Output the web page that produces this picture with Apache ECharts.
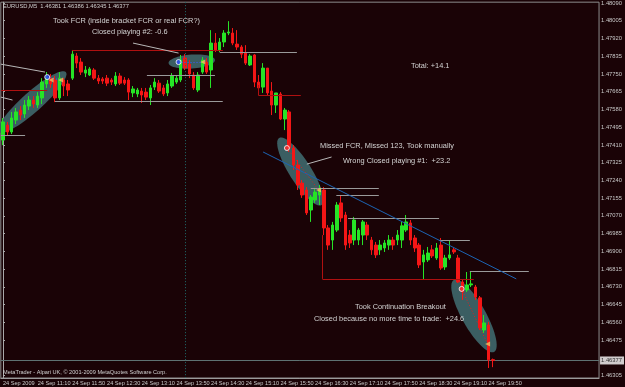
<!DOCTYPE html>
<html>
<head>
<meta charset="utf-8">
<script src="https://cdn.jsdelivr.net/npm/echarts@6.0.0/dist/echarts.min.js"></script>
<style>
html, body { margin: 0; padding: 0; background: #1a0306; }
#chart { width: 625px; height: 387px; }
</style>
</head>
<body>
<div id="chart"></div>
<script>
// EURUSD M5, 24 Sep 2009, one bar every 5 minutes from 10:30 to 19:55
// [open, close, low, high]
const bars = [
  [1.47433, 1.47520, 1.47409, 1.47539], [1.47505, 1.47472, 1.47453, 1.47520],
  [1.47472, 1.47539, 1.47462, 1.47568], [1.47529, 1.47568, 1.47510, 1.47587],
  [1.47577, 1.47553, 1.47529, 1.47596], [1.47558, 1.47601, 1.47539, 1.47625],
  [1.47596, 1.47625, 1.47577, 1.47644], [1.47625, 1.47606, 1.47587, 1.47644],
  [1.47601, 1.47644, 1.47587, 1.47663], [1.47635, 1.47711, 1.47606, 1.47730],
  [1.47702, 1.47735, 1.47683, 1.47759], [1.47730, 1.47702, 1.47683, 1.47750],
  [1.47721, 1.47635, 1.47615, 1.47740], [1.47635, 1.47730, 1.47625, 1.47759],
  [1.47721, 1.47692, 1.47644, 1.47730], [1.47702, 1.47673, 1.47644, 1.47721],
  [1.47730, 1.47845, 1.47721, 1.47865], [1.47836, 1.47802, 1.47778, 1.47850],
  [1.47807, 1.47759, 1.47745, 1.47826], [1.47754, 1.47769, 1.47735, 1.47788],
  [1.47745, 1.47774, 1.47740, 1.47783], [1.47769, 1.47730, 1.47721, 1.47778],
  [1.47730, 1.47716, 1.47702, 1.47745], [1.47726, 1.47716, 1.47702, 1.47735],
  [1.47730, 1.47706, 1.47692, 1.47745], [1.47721, 1.47711, 1.47697, 1.47730],
  [1.47702, 1.47740, 1.47692, 1.47759], [1.47740, 1.47706, 1.47697, 1.47754],
  [1.47721, 1.47706, 1.47697, 1.47735], [1.47721, 1.47663, 1.47625, 1.47730],
  [1.47659, 1.47678, 1.47639, 1.47692], [1.47654, 1.47673, 1.47639, 1.47683],
  [1.47668, 1.47649, 1.47611, 1.47683], [1.47663, 1.47639, 1.47625, 1.47683],
  [1.47635, 1.47683, 1.47601, 1.47697], [1.47687, 1.47711, 1.47673, 1.47730],
  [1.47706, 1.47668, 1.47659, 1.47721], [1.47683, 1.47654, 1.47644, 1.47697],
  [1.47659, 1.47702, 1.47644, 1.47721], [1.47692, 1.47740, 1.47683, 1.47754],
  [1.47711, 1.47730, 1.47702, 1.47745], [1.47721, 1.47817, 1.47711, 1.47841],
  [1.47826, 1.47778, 1.47769, 1.47845], [1.47797, 1.47750, 1.47730, 1.47817],
  [1.47745, 1.47683, 1.47673, 1.47759], [1.47673, 1.47745, 1.47663, 1.47759],
  [1.47759, 1.47817, 1.47750, 1.47831], [1.47807, 1.47759, 1.47750, 1.47826],
  [1.47769, 1.47898, 1.47683, 1.47960], [1.47898, 1.47865, 1.47855, 1.47946],
  [1.47865, 1.47903, 1.47855, 1.47922], [1.47903, 1.47946, 1.47879, 1.47960],
  [1.47946, 1.47951, 1.47936, 1.48003], [1.47946, 1.47898, 1.47888, 1.47970],
  [1.47893, 1.47879, 1.47865, 1.47960], [1.47879, 1.47845, 1.47826, 1.47888],
  [1.47850, 1.47802, 1.47793, 1.47888], [1.47793, 1.47836, 1.47788, 1.47845],
  [1.47841, 1.47711, 1.47687, 1.47845], [1.47711, 1.47683, 1.47649, 1.47745],
  [1.47687, 1.47778, 1.47659, 1.47802], [1.47778, 1.47659, 1.47649, 1.47778],
  [1.47668, 1.47601, 1.47553, 1.47711], [1.47601, 1.47659, 1.47563, 1.47659],
  [1.47654, 1.47534, 1.47529, 1.47663], [1.47534, 1.47577, 1.47481, 1.47587],
  [1.47568, 1.47395, 1.47376, 1.47577], [1.47395, 1.47314, 1.47290, 1.47409],
  [1.47314, 1.47218, 1.47194, 1.47338], [1.47227, 1.47170, 1.47156, 1.47242],
  [1.47194, 1.47084, 1.47074, 1.47208], [1.47098, 1.47160, 1.47041, 1.47170],
  [1.47146, 1.47184, 1.47132, 1.47204], [1.47170, 1.47194, 1.47122, 1.47218],
  [1.47194, 1.47012, 1.46978, 1.47208], [1.47012, 1.46930, 1.46907, 1.47026],
  [1.46954, 1.47026, 1.46907, 1.47041], [1.47002, 1.47122, 1.46993, 1.47136],
  [1.47132, 1.47060, 1.47041, 1.47170], [1.47074, 1.46930, 1.46907, 1.47089],
  [1.46978, 1.46940, 1.46916, 1.47002], [1.46954, 1.47050, 1.46930, 1.47065],
  [1.46954, 1.47002, 1.46930, 1.47012], [1.46978, 1.47041, 1.46930, 1.47050],
  [1.47026, 1.46978, 1.46954, 1.47041], [1.46954, 1.46907, 1.46883, 1.46969],
  [1.46930, 1.46883, 1.46868, 1.46945], [1.46907, 1.46930, 1.46883, 1.46954],
  [1.46916, 1.46940, 1.46897, 1.46954], [1.46930, 1.46954, 1.46907, 1.46978],
  [1.46954, 1.46930, 1.46907, 1.46969], [1.46954, 1.46978, 1.46930, 1.47002],
  [1.46954, 1.47022, 1.46916, 1.47041], [1.47002, 1.47041, 1.46993, 1.47074],
  [1.47036, 1.46954, 1.46930, 1.47050], [1.46964, 1.46916, 1.46897, 1.46978],
  [1.46930, 1.46835, 1.46820, 1.46940], [1.46849, 1.46883, 1.46763, 1.46907],
  [1.46859, 1.46892, 1.46849, 1.46921], [1.46907, 1.46878, 1.46868, 1.46930],
  [1.46868, 1.46916, 1.46859, 1.46940], [1.46930, 1.46820, 1.46811, 1.46964],
  [1.46825, 1.46868, 1.46811, 1.46883], [1.46868, 1.46883, 1.46859, 1.46954],
  [1.46907, 1.46897, 1.46887, 1.46916], [1.46868, 1.46753, 1.46748, 1.46883],
  [1.46753, 1.46705, 1.46667, 1.46763], [1.46715, 1.46739, 1.46705, 1.46801],
  [1.46739, 1.46744, 1.46729, 1.46801], [1.46729, 1.46681, 1.46667, 1.46739],
  [1.46677, 1.46533, 1.46523, 1.46686], [1.46523, 1.46557, 1.46509, 1.46595],
  [1.46547, 1.46380, 1.46341, 1.46562], [1.46381, 1.46377, 1.46345, 1.46386]
]

const lastPrice = 1.46377
const slotCount = 138 // bars + empty shift area on the right
const startMinutes = 10 * 60 + 30

const yTicks = [1.46305, 1.46475, 1.46560, 1.46645, 1.46730, 1.46815, 1.46900,
  1.46985, 1.47070, 1.47155, 1.47240, 1.47325, 1.47410, 1.47495, 1.47580,
  1.47665, 1.47750, 1.47835, 1.47920, 1.48005, 1.48090]

// drawn objects: [fromBar, toBar, price]
const grayLevels = [
  [-0.5, 5.1, 1.47457], [12.0, 50.7, 1.47620], [33.2, 48.9, 1.47745],
  [50.0, 67.8, 1.47855], [71.0, 86.7, 1.47204], [76.9, 86.7, 1.47170],
  [79.6, 100.6, 1.47060], [100.6, 107.7, 1.46954], [107.7, 121.3, 1.46806]
]
const redLevels = [
  [-0.5, 10.2, 1.47673], [15.9, 50.7, 1.47865], [58.9, 68.7, 1.47649], [73.7, 108.6, 1.46768]
]
// [bar, fromPrice, toPrice]
const redVerticals = [[58.9, 1.47697, 1.47649], [73.7, 1.46978, 1.46768]]
const trendLine = [[60.0, 1.47376], [118.4, 1.46768]]
const pointerLines = [
  [[-0.5, 1.47797], [9.7, 1.47759]],
  [[-0.5, 1.47639], [2.2, 1.47625]],
  [[30.0, 1.47898], [40.5, 1.47850]],
  [[70.1, 1.47318], [75.8, 1.47352]]
]
// long axis of each ellipse: [bar1, price1, bar2, price2]
const ellipses = [
  [-1.0, 1.47472, 14.5, 1.47759],
  [38.2, 1.47802, 48.9, 1.47817],
  [63.7, 1.47443, 73.5, 1.47122],
  [104.0, 1.46763, 113.3, 1.46418]
]
const ellipseHalfWidth = [10, 7, 11, 12]

const entryMarks = [[10.2, 1.47735], [40.5, 1.47807]]
const exitMarks = [[11.1, 1.47721], [13.3, 1.47721], [46.1, 1.47807], [72.8, 1.47194], [111.8, 1.46456]]
const shortEntryMarks = [[65.5, 1.47395], [105.8, 1.46720]]
const tradeLinesBlue = [[[10.2, 1.47735], [13.3, 1.47721]], [[40.5, 1.47807], [46.1, 1.47807]]]
const tradeLinesRed = [[[65.5, 1.47395], [72.8, 1.47194]], [[105.8, 1.46720], [111.8, 1.46456]]]
const separatorBar = 42

const categories = []
for (let i = 0; i < slotCount; i++) {
  const m = startMinutes + i * 5
  categories.push(String(Math.floor(m / 60)).padStart(2, '0') + ':' + String(m % 60).padStart(2, '0'))
}

const yMin = 1.46293
const yMax = 1.48094
const font = '"Liberation Sans", Arial, sans-serif'
const green = '#26e426'
const red = '#f41616'

const showTimeLabel = (index) => index % 8 === 0 && index < bars.length

function renderEllipse(params, api) {
  const a = api.coord([api.value(0), api.value(1)])
  const b = api.coord([api.value(2), api.value(3)])
  const cx = (a[0] + b[0]) / 2
  const cy = (a[1] + b[1]) / 2
  const ang = Math.atan2(b[1] - a[1], b[0] - a[0])
  const rx = Math.hypot(b[0] - a[0], b[1] - a[1]) / 2
  const ry = ellipseHalfWidth[params.dataIndex]
  const pts = []
  for (let k = 0; k < 60; k++) {
    const t = k / 60 * Math.PI * 2
    const ex = rx * Math.cos(t)
    const ey = ry * Math.sin(t)
    pts.push([cx + ex * Math.cos(ang) - ey * Math.sin(ang), cy + ex * Math.sin(ang) + ey * Math.cos(ang)])
  }
  return { type: 'polygon', shape: { points: pts }, style: { fill: '#3b5e62' } }
}

const segs = (list) => list.map(([x1, x2, p]) => ({ coords: [[x1, p], [x2, p]] }))

const chart = echarts.init(document.getElementById('chart'))
chart.setOption({
  backgroundColor: '#1a0306',
  animation: false,
  textStyle: { fontFamily: font },
  grid: {
    left: 0, right: 20, top: 2, bottom: 9,
    show: true, borderColor: '#8c8c8c', borderWidth: 1
  },
  xAxis: [{
    type: 'category',
    data: categories,
    boundaryGap: true,
    axisLine: { lineStyle: { color: '#9a9a9a' } },
    axisTick: { alignWithLabel: true, interval: showTimeLabel, length: 3, lineStyle: { color: '#b0b0b0' } },
    axisLabel: {
      interval: showTimeLabel,
      align: 'left',
      margin: 2,
      color: '#c8c8c8',
      fontSize: 5.6,
      fontFamily: font,
      formatter: (v, i) => i === 0 ? '24 Sep 2009' : '24 Sep ' + v
    },
    splitLine: { show: false }
  }, {
    type: 'value', show: false, min: -0.5, max: slotCount - 0.5
  }],
  yAxis: {
    type: 'value',
    position: 'right',
    min: yMin,
    max: yMax,
    axisLine: { show: true, lineStyle: { color: '#a8a8a8' } },
    axisTick: { show: true, length: 2, customValues: yTicks, lineStyle: { color: '#b0b0b0' } },
    axisLabel: {
      customValues: yTicks,
      margin: 2,
      color: '#c8c8c8',
      fontSize: 5.8,
      fontFamily: font,
      formatter: (v) => v.toFixed(5)
    },
    splitLine: { show: false }
  },
  series: [
    {
      type: 'custom',
      xAxisIndex: 1,
      renderItem: renderEllipse,
      encode: { x: [0, 2], y: [1, 3] },
      data: ellipses,
      silent: true,
      z: 1
    },
    {
      type: 'lines', coordinateSystem: 'cartesian2d', xAxisIndex: 1, silent: true, z: 1,
      lineStyle: { color: '#5e7272', width: 1, opacity: 1 },
      data: [{ coords: [[-0.5, lastPrice], [slotCount - 0.5, lastPrice]] }]
    },
    {
      type: 'candlestick',
      xAxisIndex: 0,
      data: bars,
      barWidth: 3,
      itemStyle: { color: green, color0: red, borderColor: green, borderColor0: red, borderWidth: 1 },
      z: 2
    },
    {
      type: 'lines', coordinateSystem: 'cartesian2d', xAxisIndex: 1, silent: true, z: 3,
      lineStyle: { color: '#1f6c6c', width: 1, type: [1, 2], opacity: 1 },
      data: [{ coords: [[separatorBar, yMax], [separatorBar, yMin]] }]
    },
    {
      type: 'lines', coordinateSystem: 'cartesian2d', xAxisIndex: 1, silent: true, z: 3,
      lineStyle: { color: '#9a9a9a', width: 1, opacity: 1 },
      data: segs(grayLevels)
    },
    {
      type: 'lines', coordinateSystem: 'cartesian2d', xAxisIndex: 1, silent: true, z: 3,
      lineStyle: { color: '#b01010', width: 1, opacity: 1 },
      data: segs(redLevels).concat(redVerticals.map(([x, p1, p2]) => ({ coords: [[x, p1], [x, p2]] })))
    },
    {
      type: 'lines', coordinateSystem: 'cartesian2d', xAxisIndex: 1, silent: true, z: 3,
      lineStyle: { color: '#1c64b4', width: 1, opacity: 1 },
      data: [{ coords: trendLine }]
    },
    {
      type: 'lines', coordinateSystem: 'cartesian2d', xAxisIndex: 1, silent: true, z: 3,
      lineStyle: { color: '#b8b8b8', width: 1, opacity: 1 },
      data: pointerLines.map((c) => ({ coords: c }))
    },
    {
      type: 'lines', coordinateSystem: 'cartesian2d', xAxisIndex: 1, silent: true, z: 4,
      lineStyle: { color: '#3a5cff', width: 1, type: [1, 2], opacity: 1 },
      data: tradeLinesBlue.map((c) => ({ coords: c }))
    },
    {
      type: 'lines', coordinateSystem: 'cartesian2d', xAxisIndex: 1, silent: true, z: 4,
      lineStyle: { color: '#e02020', width: 1, type: [1, 2], opacity: 1 },
      data: tradeLinesRed.map((c) => ({ coords: c }))
    },
    {
      type: 'scatter', xAxisIndex: 1, silent: true, z: 5,
      symbol: 'circle', symbolSize: 5,
      itemStyle: { color: '#2f4cff', borderColor: '#ffffff', borderWidth: 1 },
      data: entryMarks
    },
    {
      type: 'scatter', xAxisIndex: 1, silent: true, z: 5,
      symbol: 'circle', symbolSize: 5,
      itemStyle: { color: '#ff3030', borderColor: '#ffffff', borderWidth: 1 },
      data: shortEntryMarks
    },
    {
      type: 'scatter', xAxisIndex: 1, silent: true, z: 5,
      symbol: 'triangle', symbolSize: 5, symbolRotate: 90,
      itemStyle: { color: '#f2c060' },
      data: exitMarks
    },
    {
      // price tag of the last close on the right scale
      type: 'scatter', xAxisIndex: 1, silent: true, z: 20, clip: false,
      symbolSize: 0,
      label: {
        show: true,
        position: 'right',
        distance: 1,
        formatter: lastPrice.toFixed(5),
        color: '#000',
        backgroundColor: '#ffffff',
        fontSize: 5.8,
        fontFamily: font,
        padding: [1, 2, 1, 1]
      },
      data: [[slotCount - 0.5, lastPrice]]
    }
  ],
  graphic: [
    { type: 'text', left: 3, top: 3, z: 10, style: { text: 'EURUSD,M5  1.46381 1.46386 1.46345 1.46377', fill: '#d0d0d0', font: '5.8px ' + font } },
    { type: 'text', left: 53, top: 17, z: 10, style: { text: 'Took FCR (inside bracket FCR or real FCR?)', fill: '#d4d4d4', font: '7.4px ' + font } },
    { type: 'text', left: 92, top: 28, z: 10, style: { text: 'Closed playing #2: -0.6', fill: '#d4d4d4', font: '7.4px ' + font } },
    { type: 'text', left: 411, top: 62, z: 10, style: { text: 'Total: +14.1', fill: '#d4d4d4', font: '7.4px ' + font } },
    { type: 'text', left: 320, top: 142, z: 10, style: { text: 'Missed FCR, Missed 123, Took manually', fill: '#d4d4d4', font: '7.4px ' + font } },
    { type: 'text', left: 343, top: 157, z: 10, style: { text: 'Wrong Closed playing #1:  +23.2', fill: '#d4d4d4', font: '7.4px ' + font } },
    { type: 'text', left: 355, top: 303, z: 10, style: { text: 'Took Continuation Breakout', fill: '#d4d4d4', font: '7.4px ' + font } },
    { type: 'text', left: 314, top: 315, z: 10, style: { text: 'Closed because no more time to trade:  +24.6', fill: '#d4d4d4', font: '7.4px ' + font } },
    { type: 'text', left: 3, top: 369, z: 10, style: { text: 'MetaTrader - Alpari UK, \u00a9 2001-2009 MetaQuotes Software Corp.', fill: '#d0d0d0', font: '5.6px ' + font } }
  ]
})
</script>
</body>
</html>
